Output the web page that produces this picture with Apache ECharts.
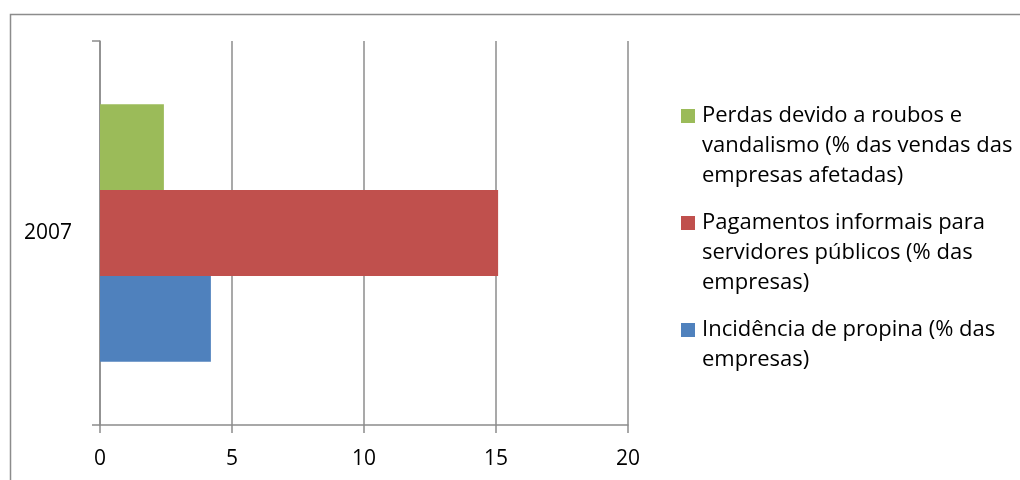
<!DOCTYPE html>
<html>
<head>
<meta charset="utf-8">
<script src="https://cdn.jsdelivr.net/npm/echarts@6/dist/echarts.min.js"></script>
<style>
html,body{margin:0;padding:0;background:#fff;}
#chart{width:1020px;height:480px;}
</style>
</head>
<body>
<div id="chart"></div>
<script>
const categories = ['2007'];
const seriesNames = [
  'Perdas devido a roubos e vandalismo (% das vendas das empresas afetadas)',
  'Pagamentos informais para servidores públicos (% das empresas)',
  'Incidência de propina (% das empresas)'
];
const legendLines = [
  ['Perdas devido a roubos e', 'vandalismo (% das vendas das', 'empresas afetadas)'],
  ['Pagamentos informais para', 'servidores públicos (% das', 'empresas)'],
  ['Incidência de propina (% das', 'empresas)']
];
const perdas = [2.42];
const pagamentos = [15.08];
const incidencia = [4.2];
const xTicks = [0, 5, 10, 15, 20];

const colors = ['#9BBB59', '#C0504D', '#4F81BD'];
const boxKeys = ['g', 'r', 'b'];
const values = [perdas, pagamentos, incidencia];
const FONT = 'Open Sans';

const chart = echarts.init(document.getElementById('chart'));
const rich = {
  t: {fontFamily: FONT, fontSize: 22, color: '#000', lineHeight: 30},
  s: {width: 14, height: 14, lineHeight: 30},
  g: {backgroundColor: colors[0], width: 14, height: 14},
  r: {backgroundColor: colors[1], width: 14, height: 14},
  b: {backgroundColor: colors[2], width: 14, height: 14},
  sp: {width: 7}
};
chart.setOption({
  animation: false,
  color: colors,
  graphic: [{
    type: 'rect', left: 8, top: 12, z: -10,
    shape: {width: 1030, height: 500},
    style: {fill: 'none', stroke: '#8c8c8c', lineWidth: 1.5}
  }],
  grid: {left: 100, right: 392, top: 41, bottom: 55},
  legend: {
    orient: 'vertical',
    left: 671, top: 96,
    itemWidth: 0, itemHeight: 0, itemGap: 17,
    icon: 'none',
    data: seriesNames.slice(),
    formatter: function (name) {
      const i = seriesNames.indexOf(name);
      return legendLines[i].map(function (ln, k) {
        return (k === 0 ? '{' + boxKeys[i] + '|}' : '{s|}') + '{sp|}{t|' + ln + '}';
      }).join('\n');
    },
    textStyle: {rich: rich, lineHeight: 30}
  },
  xAxis: {
    type: 'value', min: 0, max: 20, interval: 5,
    axisLine: {show: true, lineStyle: {color: '#8c8c8c', width: 1.5}},
    axisTick: {show: true, length: 8, lineStyle: {color: '#8c8c8c', width: 1.5}},
    splitLine: {show: true, lineStyle: {color: '#8c8c8c', width: 1.5}},
    axisLabel: {
      fontFamily: FONT, fontSize: 21, color: '#000', margin: 24,
      formatter: function (v) { return xTicks.indexOf(v) >= 0 ? String(v) : ''; }
    }
  },
  yAxis: {
    type: 'category', data: categories, inverse: true,
    axisLine: {show: true, lineStyle: {color: '#8c8c8c', width: 1.5}},
    axisTick: {show: true, length: 8, lineStyle: {color: '#8c8c8c', width: 1.5}},
    axisLabel: {fontFamily: FONT, fontSize: 21, color: '#000', margin: 28}
  },
  series: seriesNames.map(function (n, i) {
    return {
      name: n, type: 'bar', data: values[i],
      barGap: '0%', barCategoryGap: '33%',
      itemStyle: {color: colors[i]}
    };
  })
});
</script>
</body>
</html>
